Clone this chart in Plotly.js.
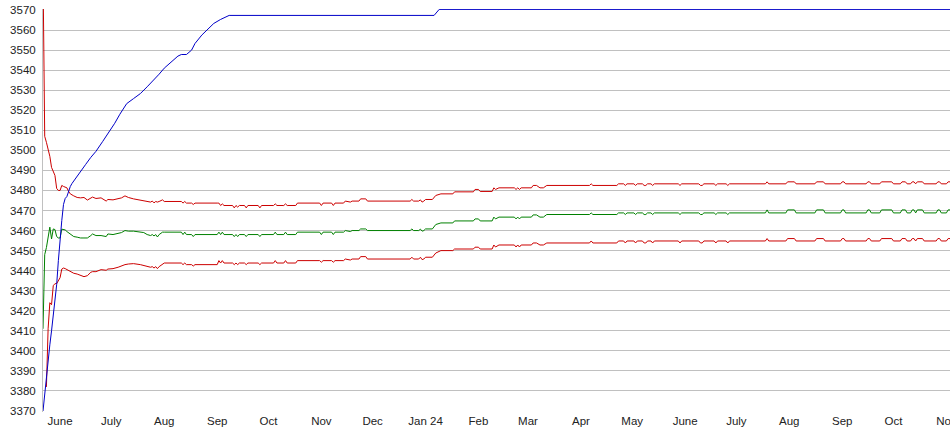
<!DOCTYPE html>
<html>
<head>
<meta charset="utf-8">
<script src="https://cdn.plot.ly/plotly-3.0.1.min.js"></script>
<style>
  html, body { margin: 0; padding: 0; background: #ffffff; overflow: hidden; }
  #chart { width: 950px; height: 435px; }
</style>
</head>
<body>
<div id="chart"></div>
<script>
// Shared dates for the band (upper / mean / lower)
const dates = [
  '2023-05-22','2023-05-23','2023-05-24','2023-05-25','2023-05-26','2023-05-27','2023-05-28','2023-05-29','2023-05-30','2023-05-31',
  '2023-06-01','2023-06-02','2023-06-03','2023-06-04','2023-06-05','2023-06-06','2023-06-07','2023-06-09','2023-06-11','2023-06-13',
  '2023-06-15','2023-06-17','2023-06-19','2023-06-20','2023-06-22','2023-06-25','2023-06-28','2023-06-29','2023-07-02','2023-07-05',
  '2023-07-07','2023-07-09','2023-07-11','2023-07-14','2023-07-18','2023-07-20','2023-07-22','2023-07-24','2023-07-25','2023-07-26',
  '2023-07-27','2023-07-28','2023-07-29','2023-07-31','2023-08-01','2023-08-11','2023-08-12','2023-08-13','2023-08-14','2023-08-17',
  '2023-08-18','2023-08-19','2023-09-01','2023-09-02','2023-09-03','2023-09-04','2023-09-05','2023-09-10','2023-09-11','2023-09-12',
  '2023-09-13','2023-09-14','2023-09-17','2023-09-18','2023-09-19','2023-09-25','2023-09-26','2023-09-27','2023-10-04','2023-10-05',
  '2023-10-06','2023-10-10','2023-10-11','2023-10-12','2023-10-17','2023-10-18','2023-10-31','2023-11-01','2023-11-02','2023-11-07',
  '2023-11-08','2023-11-09','2023-11-14','2023-11-15','2023-11-18','2023-11-19','2023-11-23','2023-11-24','2023-11-27','2023-11-28',
  '2023-12-23','2023-12-24','2023-12-25','2023-12-28','2023-12-29','2023-12-30','2023-12-31','2024-01-01','2024-01-05','2024-01-07',
  '2024-01-10','2024-01-17','2024-01-18','2024-01-29','2024-01-30','2024-02-01','2024-02-02','2024-02-09','2024-02-10','2024-02-11',
  '2024-02-13','2024-02-22','2024-02-23','2024-02-24','2024-02-25','2024-02-26','2024-03-03','2024-03-04','2024-03-06','2024-03-08',
  '2024-03-10','2024-03-12','2024-04-06','2024-04-07','2024-04-08','2024-04-22','2024-04-23','2024-04-26','2024-04-27','2024-04-28',
  '2024-05-02','2024-05-03','2024-05-04','2024-05-07','2024-05-08','2024-05-09','2024-05-10','2024-05-12','2024-05-13','2024-05-14',
  '2024-05-28','2024-05-29','2024-05-30','2024-06-09','2024-06-10','2024-06-11','2024-06-12','2024-06-18','2024-06-19','2024-06-20',
  '2024-06-25','2024-06-26','2024-06-27','2024-07-18','2024-07-19','2024-07-20','2024-07-30','2024-07-31','2024-08-04','2024-08-05',
  '2024-08-16','2024-08-17','2024-08-21','2024-08-22','2024-08-31','2024-09-01','2024-09-02','2024-09-03','2024-09-15','2024-09-16',
  '2024-09-17','2024-09-18','2024-09-23','2024-09-24','2024-09-30','2024-10-01','2024-10-05','2024-10-06','2024-10-08','2024-10-09',
  '2024-10-11','2024-10-12','2024-10-13','2024-10-14','2024-10-15','2024-10-18','2024-10-19','2024-10-26','2024-10-27','2024-10-28',
  '2024-10-29','2024-11-01','2024-11-02','2024-11-04'
];

const upper = [
  3590,3507,3504,3501,3497,3491.5,3489.5,3487.5,3481,3480,
  3480,3482.5,3482,3481.7,3481.3,3479.5,3478.3,3477.3,3476.5,3476.3,
  3476.5,3475.2,3476,3476.7,3476,3476.3,3474.7,3475.5,3475.3,3476,
  3476.3,3477.3,3476.5,3475.8,3475.3,3475,3474.5,3474.2,3474.7,3473.8,
  3474.5,3474.2,3474.5,3475.3,3474.5,3474.5,3473.7,3474.5,3473.7,3473.7,
  3473,3473.7,3473.7,3473.7,3472.5,3473.3,3472.5,3472.5,3471.3,3472.5,
  3471.7,3472.5,3472.5,3471.3,3472.5,3472.5,3471.3,3472.5,3472.5,3473.3,
  3472.5,3472.5,3473.3,3472.5,3472.5,3473.7,3473.7,3472.5,3473.7,3473.7,
  3472.5,3473.7,3473.7,3474.7,3474.2,3474.7,3474.7,3475.8,3475.8,3474.7,
  3474.7,3475.5,3474.7,3474.7,3475.3,3474.2,3474.7,3475.5,3475.5,3477.5,
  3478.3,3478.3,3479.3,3479.3,3480.5,3480.5,3479.5,3479.5,3481.3,3480.5,
  3481.3,3481.3,3480.5,3481.3,3480.5,3481.3,3481.3,3482.5,3482.5,3481.3,
  3481.3,3482.5,3482.5,3483.3,3482.5,3482.5,3483.3,3483.3,3482.5,3483.3,
  3483.3,3482.5,3483.3,3483.3,3482.5,3482.5,3483.3,3483.3,3482.5,3483.3,
  3483.3,3482.5,3483.3,3483.3,3482.5,3482.5,3483.3,3483.3,3482.5,3483.3,
  3483.3,3482.5,3483.3,3483.3,3484.3,3483.3,3483.3,3484.3,3484.3,3483.3,
  3483.3,3484.3,3484.3,3483.3,3483.3,3484.3,3484.3,3483.3,3483.3,3484.3,
  3484.3,3483.3,3483.3,3484.3,3484.3,3483.3,3483.3,3484.3,3484.3,3483.3,
  3483.3,3484.3,3484.3,3483.3,3484.3,3484.3,3483.3,3483.3,3484.3,3484.3,
  3483.3,3483.3,3484.3,3484.3
];

const mean = [
  3411,3448,3451.5,3456,3461.7,3455.8,3460.8,3460.5,3457,3456.3,
  3456.3,3460.7,3460.5,3460.3,3459.5,3458.8,3458.3,3457,3456.7,3456.3,
  3456.3,3456.3,3457.5,3458.3,3457.5,3457.5,3457,3458.3,3458,3458.7,
  3459,3460,3459.7,3459.7,3459.2,3459,3458,3457.5,3458,3457.3,
  3458,3456.8,3458,3459.2,3459.2,3459.2,3458,3459.2,3458,3458,
  3457,3458,3458,3459.2,3458,3459.2,3458,3458,3457,3458,
  3457,3458,3458,3457,3458,3458,3457,3458,3458,3459.2,
  3458,3458,3459.2,3458,3458,3459.2,3459.2,3458,3459.2,3459.2,
  3458,3459.2,3459.2,3460,3459.5,3460,3460,3460.8,3460.8,3460,
  3460,3460.8,3460,3460,3460.7,3459.7,3460,3460.8,3460.8,3463,
  3463.8,3463.8,3464.8,3464.8,3465.8,3465.8,3464.8,3464.8,3466.7,3465.8,
  3466.7,3466.7,3465.8,3466.7,3465.8,3466.7,3466.7,3467.8,3467.8,3466.7,
  3466.7,3468,3468,3468.8,3468,3468,3468.8,3468.8,3468,3468.8,
  3468.8,3468,3468.8,3468.8,3468,3468,3468.8,3468.8,3468,3468.8,
  3468.8,3468,3468.8,3468.8,3468,3468,3468.8,3468.8,3468,3468.8,
  3468.8,3468,3468.8,3468.8,3470.3,3468.8,3468.8,3470.3,3470.3,3468.8,
  3468.8,3470.3,3470.3,3468.8,3468.8,3470.3,3470.3,3468.8,3468.8,3470.3,
  3470.3,3468.8,3468.8,3470.3,3470.3,3468.8,3468.8,3470.3,3470.3,3468.8,
  3468.8,3470.3,3470.3,3468.8,3470.3,3470.3,3468.8,3468.8,3470.3,3470.3,
  3468.8,3468.8,3470.3,3470.3
];

const lower = [
  null,null,3382,3411,3424,3423,3432.5,3433.5,3433.5,3435,
  3436.5,3440.8,3441.3,3441,3440.5,3440,3439.5,3438.7,3438.3,3437.5,
  3437,3437.5,3439.2,3439.5,3439.5,3440.5,3440.2,3440.8,3441,3441.7,
  3442.5,3443,3443.3,3443.5,3443,3442.5,3442,3441.7,3442,3441.3,
  3442,3441,3442,3443.3,3443.8,3443.8,3443,3443.8,3443,3443,
  3442.3,3443,3443,3445,3443.8,3445,3443.8,3443.8,3443,3443.8,
  3443,3443.8,3443.8,3443,3443.8,3443.8,3443,3443.8,3443.8,3445,
  3443.8,3443.8,3445,3443.8,3443.8,3445,3445,3444.2,3445,3445,
  3444.2,3445,3445,3445.8,3445.3,3445.8,3445.8,3447,3447,3445.8,
  3445.8,3446.7,3445.8,3445.8,3446.7,3445.5,3445.8,3446.7,3446.7,3448.8,
  3450,3450,3450.8,3450.8,3451.7,3451.7,3450.8,3450.8,3452.8,3451.8,
  3452.8,3452.8,3451.8,3452.8,3451.8,3452.8,3452.8,3453.8,3453.8,3452.8,
  3452.8,3453.8,3453.8,3454.8,3453.8,3453.8,3454.8,3454.8,3453.8,3454.8,
  3454.8,3453.8,3454.8,3454.8,3453.8,3453.8,3454.8,3454.8,3453.8,3454.8,
  3454.8,3453.8,3454.8,3454.8,3453.8,3453.8,3454.8,3454.8,3453.8,3454.8,
  3454.8,3453.8,3454.8,3454.8,3456,3454.8,3454.8,3456,3456,3454.8,
  3454.8,3456,3456,3454.8,3454.8,3456,3456,3454.8,3454.8,3456,
  3456,3454.8,3454.8,3456,3456,3454.8,3454.8,3456,3456,3454.8,
  3454.8,3456,3456,3454.8,3456,3456,3454.8,3454.8,3456,3456,
  3454.8,3454.8,3456,3456
];

// Running maximum (blue)
const maxDates = [
  '2023-05-22','2023-05-23','2023-05-24','2023-05-25','2023-05-26','2023-05-27','2023-05-28','2023-05-29','2023-05-30','2023-05-31',
  '2023-06-01','2023-06-02','2023-06-03','2023-06-04','2023-06-05','2023-06-06','2023-06-07','2023-06-08','2023-06-10','2023-06-13',
  '2023-06-16','2023-06-19','2023-06-22','2023-06-26','2023-06-30','2023-07-03','2023-07-06','2023-07-10','2023-07-14','2023-07-18',
  '2023-07-22','2023-07-26','2023-07-29','2023-08-01','2023-08-05','2023-08-09','2023-08-11','2023-08-14','2023-08-17','2023-08-19',
  '2023-08-23','2023-08-26','2023-08-30','2023-09-03','2023-09-06','2023-09-08','2024-01-06','2024-01-09','2024-11-04'
];
const maxVals = [
  3370,3379,3388,3396,3403,3410,3418,3425,3433,3445,
  3456,3465,3473,3476,3477,3480,3482,3483.5,3486,3489.5,
  3493,3496.5,3499.5,3504.5,3509.5,3513.5,3518,3523.3,3525.8,3528.3,
  3531.7,3535.2,3538,3541,3543.8,3547,3547.8,3547.8,3550,3553.3,
  3557.5,3560,3563.3,3565.3,3566.3,3567.3,3567.3,3570.3,3570.3
];

// Axis labels
const monthTicks = [
  '2023-06-01','2023-07-01','2023-08-01','2023-09-01','2023-10-01','2023-11-01','2023-12-01','2024-01-01','2024-02-01',
  '2024-03-01','2024-04-01','2024-05-01','2024-06-01','2024-07-01','2024-08-01','2024-09-01','2024-10-01','2024-11-01'
];
const monthLabels = ['June','July','Aug','Sep','Oct','Nov','Dec','Jan 24','Feb','Mar','Apr','May','June','July','Aug','Sep','Oct','Nov'];

const tickFont = { family: 'Liberation Sans, Arial, sans-serif', size: 11.5, color: '#222222' };

const traces = [
  { x: dates, y: upper, type: 'scatter', mode: 'lines', line: { color: '#cc0000', width: 1 }, hoverinfo: 'skip' },
  { x: dates, y: lower, type: 'scatter', mode: 'lines', line: { color: '#cc0000', width: 1 }, hoverinfo: 'skip' },
  { x: dates, y: mean, type: 'scatter', mode: 'lines', line: { color: '#008000', width: 1 }, hoverinfo: 'skip' },
  { x: maxDates, y: maxVals, type: 'scatter', mode: 'lines', line: { color: '#0000c8', width: 1 }, hoverinfo: 'skip' }
];

const layout = {
  width: 950,
  height: 435,
  margin: { l: 43, r: 0, t: 9, b: 23, pad: 0 },
  paper_bgcolor: '#ffffff',
  plot_bgcolor: '#ffffff',
  showlegend: false,
  xaxis: {
    type: 'date',
    range: ['2023-05-22', '2024-11-03 02:30'],
    tickmode: 'array',
    tickvals: monthTicks,
    ticktext: monthLabels,
    showgrid: false,
    zeroline: false,
    showline: false,
    ticks: '',
    ticklabeloverflow: 'allow',
    tickfont: tickFont,
    fixedrange: true
  },
  yaxis: {
    range: [3369.5, 3570.5],
    tick0: 3370,
    dtick: 10,
    showgrid: true,
    gridcolor: '#c0c0c0',
    gridwidth: 1,
    zeroline: false,
    showline: true,
    linecolor: '#c0c0c0',
    linewidth: 1,
    ticks: '',
    ticklabelstandoff: 4,
    tickfont: tickFont,
    fixedrange: true
  }
};

Plotly.newPlot('chart', traces, layout, { displayModeBar: false, staticPlot: true });
</script>
</body>
</html>
